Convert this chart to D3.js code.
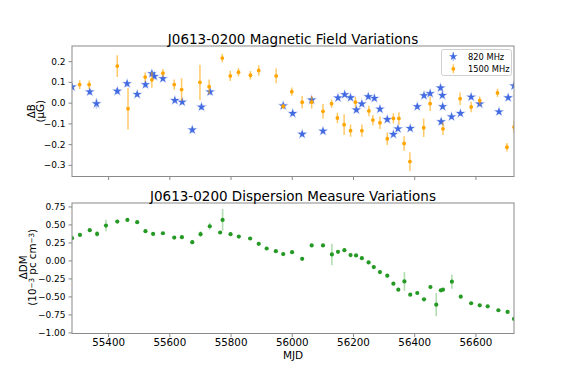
<!DOCTYPE html>
<html><head><meta charset="utf-8">
<script src="https://cdn.jsdelivr.net/npm/d3@7"></script>
<style>
body{margin:0;background:#fff;}
text{font-family:"DejaVu Sans",sans-serif;fill:#000;}
</style></head>
<body><svg id="c" width="572" height="382"></svg>
<script>
// ---- data ----
const xDomain = [55282, 56726];
const xTicks = [55400, 55600, 55800, 56000, 56200, 56400, 56600];
const bTicks = [-0.3, -0.2, -0.1, 0.0, 0.1, 0.2];
const dmTicks = [-1.0, -0.75, -0.5, -0.25, 0.0, 0.25, 0.5, 0.75];

const mjd820 = [55282,55340,55362,55430,55462,55495,55522,55543,55551,55579,55618,55642,55675,55705,55733,55972,56003,56034,56065,56102,56151,56173,56192,56211,56229,56250,56270,56288,56312,56332,56347,56387,56410,56432,56452,56486,56488,56492,56493,56522,56551,56586,56614,56677,56707,56726];
const b820 = [0.076,0.052,-0.005,0.055,0.092,0.040,0.087,0.140,0.127,0.116,0.011,0.003,-0.131,-0.021,0.052,-0.015,-0.052,-0.152,0.013,-0.137,0.023,0.039,0.024,-0.035,-0.006,0.029,0.021,-0.031,-0.081,-0.153,-0.126,-0.124,-0.019,0.034,0.044,0.071,-0.092,0.035,-0.019,-0.068,-0.052,0.027,-0.006,-0.044,0.024,0.081];
const err820 = [0.015,0.015,0.025,0.015,0.015,0.012,0.015,0.015,0.015,0.012,0.012,0.012,0.015,0.015,0.015,0.012,0.012,0.012,0.012,0.012,0.012,0.012,0.012,0.012,0.012,0.012,0.012,0.012,0.012,0.012,0.012,0.012,0.012,0.012,0.012,0.015,0.015,0.012,0.012,0.012,0.012,0.012,0.012,0.012,0.012,0.012];

const mjd1500 = [55307,55338,55430,55465,55521,55543,55579,55616,55640,55700,55730,55773,55799,55826,55865,55892,55949,55972,56000,56034,56065,56102,56130,56149,56171,56192,56208,56229,56252,56265,56288,56312,56332,56350,56367,56386,56431,56452,56494,56550,56586,56614,56672,56703,56726];
const b1500 = [0.087,0.087,0.176,-0.029,0.123,0.110,0.142,0.087,0.063,0.098,0.077,0.215,0.129,0.147,0.132,0.155,0.129,-0.018,0.053,0.002,0.002,-0.042,-0.005,-0.074,-0.106,-0.135,0.002,-0.135,-0.040,-0.084,-0.097,-0.174,-0.076,-0.076,-0.197,-0.284,-0.121,-0.005,-0.126,0.019,-0.021,0.010,0.047,-0.215,-0.118];
const err1500 = [0.021,0.02,0.053,0.10,0.022,0.038,0.02,0.025,0.054,0.085,0.035,0.02,0.025,0.02,0.02,0.025,0.035,0.012,0.02,0.03,0.03,0.035,0.02,0.025,0.05,0.03,0.025,0.03,0.025,0.025,0.03,0.03,0.025,0.03,0.035,0.045,0.045,0.035,0.03,0.03,0.025,0.02,0.02,0.02,0.03];

const mjdDM = [55282,55308,55340,55364,55393,55430,55463,55495,55522,55547,55579,55616,55641,55675,55702,55732,55766,55774,55800,55827,55864,55892,55918,55948,55972,56001,56034,56065,56102,56131,56151,56172,56192,56210,56229,56251,56268,56288,56312,56332,56348,56368,56387,56410,56432,56453,56472,56487,56494,56523,56552,56586,56614,56640,56675,56705,56726];
const dm = [0.309,0.355,0.420,0.369,0.485,0.540,0.563,0.531,0.406,0.369,0.378,0.318,0.323,0.254,0.365,0.475,0.388,0.563,0.365,0.332,0.305,0.231,0.166,0.129,0.088,0.115,0.023,0.208,0.208,0.083,0.120,0.143,0.074,0.069,0.032,-0.028,-0.092,-0.162,-0.212,-0.323,-0.406,-0.291,-0.475,-0.452,-0.540,-0.369,-0.614,-0.415,-0.406,-0.295,-0.503,-0.595,-0.623,-0.637,-0.692,-0.715,-0.812];
const errDM = [0.02,0.02,0.02,0.04,0.08,0.02,0.02,0.02,0.02,0.02,0.02,0.02,0.02,0.03,0.04,0.05,0.02,0.15,0.02,0.02,0.02,0.02,0.02,0.02,0.02,0.02,0.02,0.02,0.02,0.15,0.02,0.02,0.02,0.02,0.02,0.02,0.02,0.02,0.02,0.02,0.02,0.13,0.02,0.02,0.02,0.02,0.16,0.02,0.02,0.10,0.02,0.02,0.02,0.02,0.02,0.02,0.02];

const seriesNames = ["820 MHz", "1500 MHz"];
const titles = ["J0613-0200 Magnetic Field Variations", "J0613-0200 Dispersion Measure Variations"];

// ---- layout ----
const L = 72, R = 514;
const top1 = 46, bot1 = 176.5, top2 = 203, bot2 = 333.5;
const C820 = "#4169e1", C1500 = "#ffa500", CDM = "#249a24";
const spine = "#8a8a8a";

const svg = d3.select("#c");
const x = d3.scaleLinear().domain(xDomain).range([L, R]);
const yB = d3.scaleLinear().domain([-0.356, 0.273]).range([bot1, top1]);
const yDM = d3.scaleLinear().domain([-1.015, 0.798]).range([bot2, top2]);

function clip(id, t, b) {
  svg.append("clipPath").attr("id", id).append("rect")
    .attr("x", L).attr("y", t).attr("width", R - L).attr("height", b - t);
}
clip("c1", top1, bot1); clip("c2", top2, bot2);

function axes(y, t, b, ticks, fmt, showX) {
  const gx = svg.append("g").attr("transform", `translate(0,${b})`)
    .call(d3.axisBottom(x).tickValues(xTicks).tickSize(3.5).tickPadding(2)
      .tickFormat(showX ? d3.format("d") : () => ""));
  const gy = svg.append("g").attr("transform", `translate(${L},0)`)
    .call(d3.axisLeft(y).tickValues(ticks).tickSize(3.5).tickPadding(3).tickFormat(fmt));
  [gx, gy].forEach(g => {
    g.select(".domain").remove();
    g.selectAll(".tick line").attr("stroke", spine);
    g.selectAll(".tick text").style("font-family", "DejaVu Sans").attr("fill", "#000");
  });
  gx.selectAll(".tick text").style("font-size", "10.3px");
  gy.selectAll(".tick text").style("font-size", "9px");
  svg.append("rect").attr("x", L).attr("y", t).attr("width", R - L).attr("height", b - t)
    .attr("fill", "none").attr("stroke", spine).attr("stroke-width", 1);
}

// ---- top panel ----
const g1 = svg.append("g").attr("clip-path", "url(#c1)");
const d820 = mjd820.map((m, i) => ({m, v: b820[i], e: err820[i]}));
const d1500 = mjd1500.map((m, i) => ({m, v: b1500[i], e: err1500[i]}));

g1.selectAll(".e820").data(d820).join("line")
  .attr("x1", d => x(d.m)).attr("x2", d => x(d.m))
  .attr("y1", d => yB(d.v - d.e)).attr("y2", d => yB(d.v + d.e))
  .attr("stroke", C820).attr("stroke-opacity", 0.35).attr("stroke-width", 1.6);
const star = d3.symbol().type(d3.symbolStar).size(22);
g1.selectAll(".halo").data(d820).join("path")
  .attr("d", d3.symbol().type(d3.symbolStar).size(42))
  .attr("transform", d => `translate(${x(d.m)},${yB(d.v)})`)
  .attr("fill", C820).attr("fill-opacity", 0.25);
g1.selectAll(".s820").data(d820).join("path")
  .attr("d", star)
  .attr("transform", d => `translate(${x(d.m)},${yB(d.v)})`)
  .attr("fill", C820);

g1.selectAll(".e1500").data(d1500).join("line")
  .attr("x1", d => x(d.m)).attr("x2", d => x(d.m))
  .attr("y1", d => yB(d.v - d.e)).attr("y2", d => yB(d.v + d.e))
  .attr("stroke", C1500).attr("stroke-opacity", 0.6).attr("stroke-width", 1.5);
g1.selectAll(".p1500").data(d1500).join("circle")
  .attr("cx", d => x(d.m)).attr("cy", d => yB(d.v)).attr("r", 1.9)
  .attr("fill", C1500);

axes(yB, top1, bot1, bTicks, d3.format(".1f"), false);

// ---- bottom panel ----
const g2 = svg.append("g").attr("clip-path", "url(#c2)");
const dDM = mjdDM.map((m, i) => ({m, v: dm[i], e: errDM[i]}));
g2.selectAll(".edm").data(dDM).join("line")
  .attr("x1", d => x(d.m)).attr("x2", d => x(d.m))
  .attr("y1", d => yDM(d.v - d.e)).attr("y2", d => yDM(d.v + d.e))
  .attr("stroke", CDM).attr("stroke-opacity", 0.35).attr("stroke-width", 1.6);
g2.selectAll(".pdm").data(dDM).join("circle")
  .attr("cx", d => x(d.m)).attr("cy", d => yDM(d.v)).attr("r", 2.1)
  .attr("fill", CDM);

axes(yDM, top2, bot2, dmTicks, d3.format(".2f"), true);

// ---- titles & labels ----
svg.append("text").attr("x", (L + R) / 2).attr("y", top1 - 2.5).attr("text-anchor", "middle")
  .style("font-size", "13.5px").text(titles[0]);
svg.append("text").attr("x", (L + R) / 2).attr("y", top2 - 2.5).attr("text-anchor", "middle")
  .style("font-size", "13.5px").text(titles[1]);

svg.append("text").attr("x", (L + R) / 2).attr("y", 359).attr("text-anchor", "middle")
  .style("font-size", "10.5px").text("MJD");

function ylab(cy, x1, x2, l1, l2fn) {
  svg.append("text").attr("transform", `translate(${x1},${cy}) rotate(-90)`)
    .attr("text-anchor", "middle").style("font-size", "10.3px").text(l1);
  const t2 = svg.append("text").attr("transform", `translate(${x2},${cy}) rotate(-90)`)
    .attr("text-anchor", "middle").style("font-size", "10.3px");
  l2fn(t2);
}
ylab((top1 + bot1) / 2, 34.5, 43.5, "ΔB", t => t.text("(μG)"));
ylab((top2 + bot2) / 2 - 1, 27, 36, "ΔDM", t => {
  t.append("tspan").text("(10");
  t.append("tspan").attr("baseline-shift", "35%").style("font-size", "7.2px").text("−3");
  t.append("tspan").text(" pc cm");
  t.append("tspan").attr("baseline-shift", "35%").style("font-size", "7.2px").text("−3");
  t.append("tspan").text(")");
});

// ---- legend ----
const lg = svg.append("g");
lg.append("rect").attr("x", 441.5).attr("y", 49.5).attr("width", 70).attr("height", 26).attr("rx", 2)
  .attr("fill", "#fff").attr("fill-opacity", 0.85).attr("stroke", "#d0d0d0");
const rows = [{y: 56.5, c: C820, star: true}, {y: 68.8, c: C1500, star: false}];
rows.forEach((r, i) => {
  lg.append("line").attr("x1", 453.3).attr("x2", 453.3).attr("y1", r.y - 4.5).attr("y2", r.y + 4.5)
    .attr("stroke", r.c).attr("stroke-opacity", r.star ? 0.4 : 0.6).attr("stroke-width", 1.5);
  if (r.star) lg.append("path").attr("d", star).attr("transform", `translate(453.3,${r.y})`).attr("fill", r.c);
  else lg.append("circle").attr("cx", 453.3).attr("cy", r.y).attr("r", 1.9).attr("fill", r.c);
  lg.append("text").attr("x", 468).attr("y", r.y + 3).style("font-size", "8.3px").text(seriesNames[i]);
});
</script></body></html>
